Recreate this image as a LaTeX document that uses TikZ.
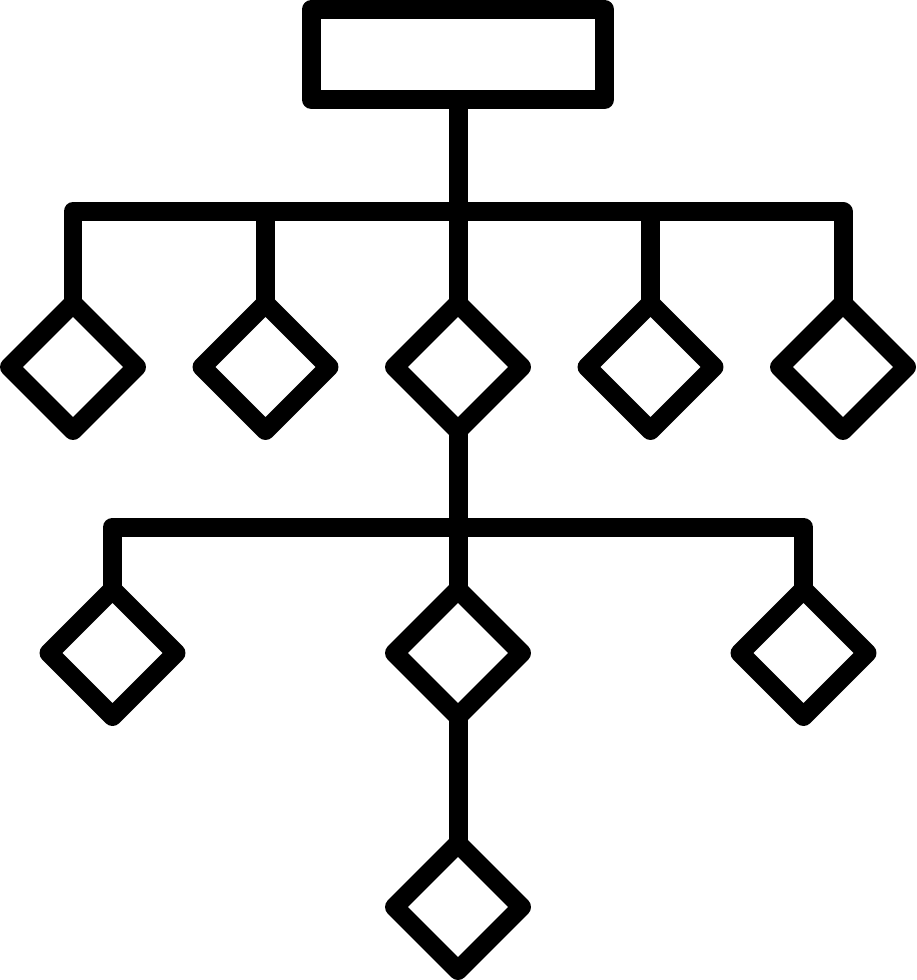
\documentclass[tikz,border=0pt]{standalone}
\usepackage{tikz}
\usetikzlibrary{shapes, positioning}
\tikzset{
    boxnode/.style = {draw, rectangle, line width=0.38cm, line join=round, inner sep=0em, 
      outer sep=0em, minimum width=5.87cm, minimum height=1.8cm},
    diamondnode/.style = {draw, diamond, line width=0.38cm, line join=round, inner sep=0em, 
      outer sep=0em, minimum width=2.54cm, minimum height=2.54cm},
    connect/.style = {black, line width=0.38cm, line join=round}
}
\begin{document}
\begin{tikzpicture}[x=0.02cm, y=-0.02cm]
\useasboundingbox (0,0) rectangle (916,980);

\node[boxnode, name=root] at (458,54.5) {};

\node[diamondnode, name=d1] at (73,367) {};
\node[diamondnode, name=d2] at (265.5,367) {};
\node[diamondnode, name=d3] at (458,367) {};
\node[diamondnode, name=d4] at (650.5,367) {};
\node[diamondnode, name=d5] at (843,367) {};

\node[diamondnode, name=e1] at (112.5,653) {};
\node[diamondnode, name=e2] at (458,653) {};
\node[diamondnode, name=e3] at (803.5,653) {};

\node[diamondnode, name=f1] at (458,907) {};

\coordinate (bus1) at (458,211.5);
\coordinate (bus2) at (458,527);

\draw[connect] (root.south) -- (d3.north);
\draw[connect] (d1.north) |- (bus1) -| (d5.north);
\draw[connect] (d2.north) -- (d2.north |- bus1);
\draw[connect] (d4.north) -- (d4.north |- bus1);

\draw[connect] (d3.south) -- (e2.north);
\draw[connect] (e1.north) |- (bus2) -| (e3.north);

\draw[connect] (e2.south) -- (f1.north);
\end{tikzpicture}
\end{document}
